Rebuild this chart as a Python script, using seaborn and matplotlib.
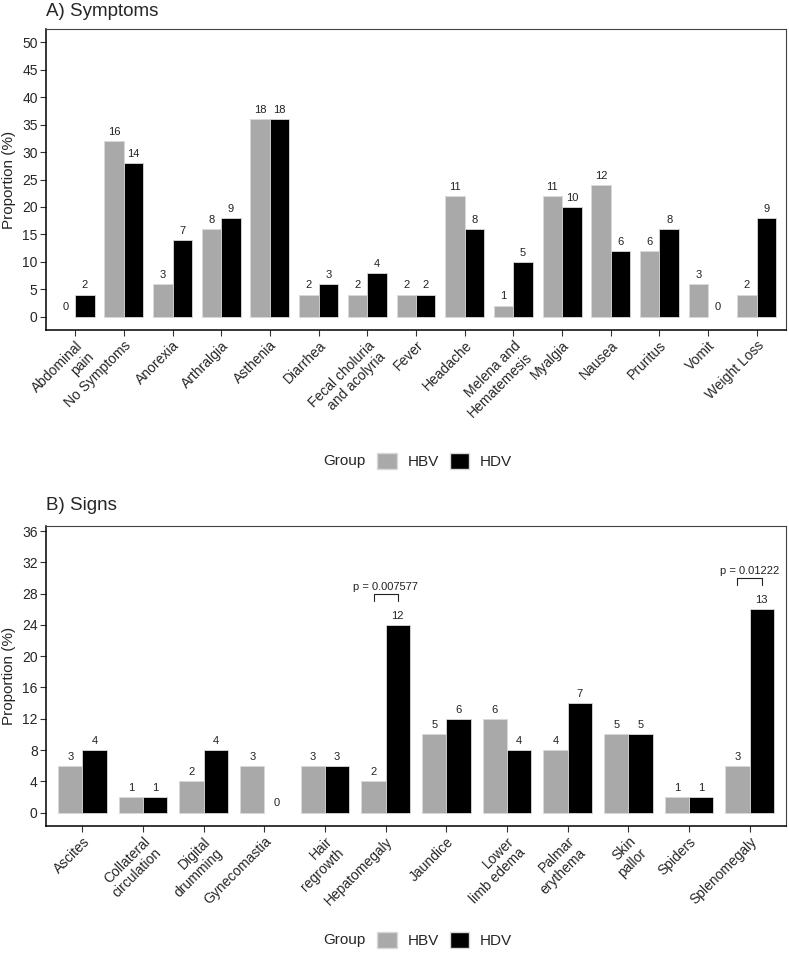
import numpy as np
import pandas as pd
import seaborn as sns
import matplotlib.pyplot as plt
from matplotlib.patches import Patch

# Symptoms: patient counts per group (n = 50 per group)
symptoms = ['Abdominal\npain', 'No Symptoms', 'Anorexia', 'Arthralgia', 'Asthenia',
            'Diarrhea', 'Fecal choluria\nand acolyria', 'Fever', 'Headache',
            'Melena and\nHematemesis', 'Myalgia', 'Nausea', 'Pruritus', 'Vomit',
            'Weight Loss']
symptoms_hbv = [0, 16, 3, 8, 18, 2, 2, 2, 11, 1, 11, 12, 6, 3, 2]
symptoms_hdv = [2, 14, 7, 9, 18, 3, 4, 2, 8, 5, 10, 6, 8, 0, 9]

# Signs: patient counts per group
signs = ['Ascites', 'Collateral\ncirculation', 'Digital\ndrumming', 'Gynecomastia',
         'Hair\nregrowth', 'Hepatomegaly', 'Jaundice', 'Lower\nlimb edema',
         'Palmar\nerythema', 'Skin\npallor', 'Spiders', 'Splenomegaly']
signs_hbv = [3, 1, 2, 3, 3, 2, 5, 6, 4, 5, 1, 3]
signs_hdv = [4, 1, 4, 0, 3, 12, 6, 4, 7, 5, 1, 13]

group_n = {'HBV': 50, 'HDV': 50}
sig_signs = ['Hepatomegaly', 'Splenomegaly']
sig_pvals = ['p = 0.007577', 'p = 0.01222']

palette = {'HBV': '#A9A9A9', 'HDV': '#000000'}


def make_long(cats, hbv, hdv):
    df = pd.DataFrame({
        'Category': cats * 2,
        'Group': ['HBV'] * len(cats) + ['HDV'] * len(cats),
        'Count': hbv + hdv,
    })
    df['Proportion'] = df['Count'] / df['Group'].map(group_n) * 100
    return df


sns.set_style('ticks')
plt.rcParams['font.family'] = ['Liberation Sans', 'DejaVu Sans']

fig = plt.figure(figsize=(7.89, 9.61), dpi=100)
W, H = 789, 961


def draw_panel(ax, df, cats, ylim, yticks):
    sns.barplot(data=df, x='Category', y='Proportion', hue='Group', order=cats,
                hue_order=['HBV', 'HDV'], palette=palette, width=0.8,
                edgecolor='#d9d9d9', linewidth=0.6, errorbar=None, ax=ax,
                legend=False)
    for cont, grp in zip(ax.containers, ['HBV', 'HDV']):
        counts = df[df['Group'] == grp].set_index('Category').loc[cats, 'Count']
        for bar in cont:
            if bar.get_height() == 0:
                bar.set_linewidth(0)
        ax.bar_label(cont, labels=[str(c) for c in counts], padding=3,
                     fontsize=8, color='#222222')
    ax.set_xlim(-0.6, len(cats) - 0.4)
    ax.set_ylim(*ylim)
    ax.set_yticks(yticks)
    ax.set_xlabel('')
    ax.set_ylabel('Proportion (%)', fontsize=11, labelpad=4)
    ax.tick_params(axis='y', labelsize=10, length=4, width=0.8, color='#333333', pad=2)
    ax.tick_params(axis='x', labelsize=10, length=4, width=0.8, color='#333333', pad=2)
    plt.setp(ax.get_xticklabels(), rotation=45, ha='right', va='top',
             rotation_mode='anchor')
    for s in ['top', 'right']:
        ax.spines[s].set_color('#444444')
        ax.spines[s].set_linewidth(0.8)
    for s in ['left', 'bottom']:
        ax.spines[s].set_color('#000000')
        ax.spines[s].set_linewidth(1.1)


# Panel A
axA = fig.add_axes([46 / W, 1 - 330 / H, 740 / W, 301 / H])
dfA = make_long(symptoms, symptoms_hbv, symptoms_hdv)
draw_panel(axA, dfA, symptoms, (-2.45, 52.45), np.arange(0, 51, 5))
fig.text(46 / W, 1 - 12 / H, 'A) Symptoms', fontsize=13.5, va='center', ha='left')

# Panel B
axB = fig.add_axes([46 / W, 1 - 826 / H, 740 / W, 300 / H])
dfB = make_long(signs, signs_hbv, signs_hdv)
draw_panel(axB, dfB, signs, (-1.71, 36.64), np.arange(0, 37, 4))
fig.text(46 / W, 1 - 506 / H, 'B) Signs', fontsize=13.5, va='center', ha='left')

# significance brackets
for cat, ptxt in zip(sig_signs, sig_pvals):
    i = signs.index(cat)
    top = dfB[dfB['Category'] == cat]['Proportion'].max() + 4
    x0, x1 = i - 0.2, i + 0.2
    axB.plot([x0, x0, x1, x1], [top - 0.9, top, top, top - 0.9],
             color='#222222', lw=0.8)
    axB.text(i, top + 0.25, ptxt, ha='center', va='bottom', fontsize=8,
             color='#222222')

# legends
handles = [Patch(facecolor=palette['HBV'], edgecolor='#d9d9d9'),
           Patch(facecolor=palette['HDV'], edgecolor='#d9d9d9')]
for ycen in [461, 940]:
    fig.text(365 / W, 1 - ycen / H, 'Group', fontsize=11, ha='right', va='center')
    fig.legend(handles, ['HBV', 'HDV'], loc='center left',
               bbox_to_anchor=(377 / W, 1 - ycen / H), ncol=2, frameon=False,
               fontsize=11, handlelength=1.3, handleheight=1.3,
               handletextpad=0.7, columnspacing=0.7, borderpad=0,
               borderaxespad=0)

fig.savefig('out.png', dpi=100)
